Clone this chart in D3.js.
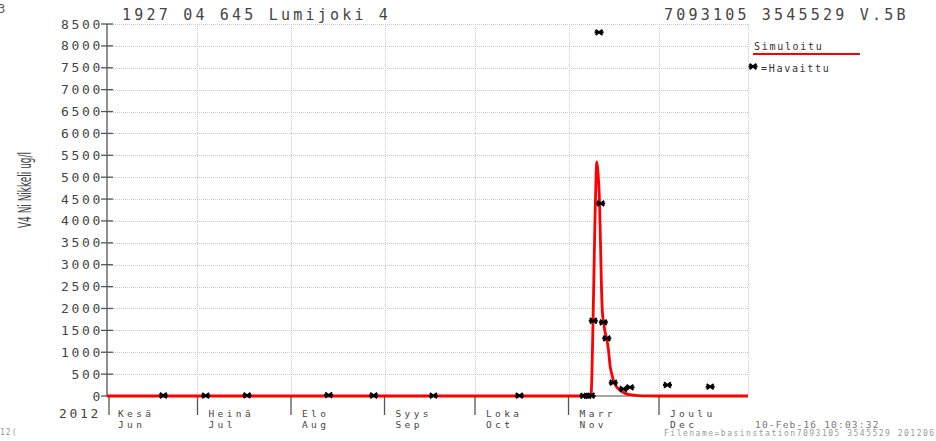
<!DOCTYPE html>
<html><head><meta charset="utf-8">
<script src="https://cdn.jsdelivr.net/npm/d3@7"></script>
<style>body{margin:0;background:#fff}svg{display:block}</style>
</head><body>
<svg id="c" width="936" height="441"></svg>
<script>
const titleLeft = "1927 04 645 Lumijoki 4";
const titleRight = "7093105 3545529 V.5B";
const yLabel = "V4 Ni Nikkeli ug/l";
const yearLabel = "2012";
const monthFi = ["Kesä","Heinä","Elo","Syys","Loka","Marr","Joulu"];
const monthEn = ["Jun","Jul","Aug","Sep","Oct","Nov","Dec"];
const monthStarts = ["2012-06-01 00","2012-07-01 00","2012-08-01 00","2012-09-01 00","2012-10-01 00","2012-11-01 00","2012-12-01 00"];
const yTicks = [0,500,1000,1500,2000,2500,3000,3500,4000,4500,5000,5500,6000,6500,7000,7500,8000,8500];
const xDomain = ["2012-06-01 00","2012-12-30 12"];

const simDates = ["2012-06-01 00","2012-11-08 11","2012-11-08 19","2012-11-09 03","2012-11-09 11","2012-11-09 19","2012-11-10 03","2012-11-10 09","2012-11-10 19","2012-11-11 07","2012-11-11 15","2012-11-11 23","2012-11-12 06","2012-11-12 14","2012-11-13 02","2012-11-13 16","2012-11-14 06","2012-11-14 18","2012-11-15 10","2012-11-15 22","2012-11-16 18","2012-11-18 02","2012-11-19 18","2012-11-21 09","2012-11-24 01","2012-11-27 10","2012-12-01 00","2012-12-30 12"];
const simValues = [0,0,600,1700,2900,4100,5000,5350,5100,4400,3400,2400,1900,1700,1480,1300,1050,700,480,340,230,130,60,30,8,1,0,0];

const obsDates = ["2012-06-19 16","2012-07-03 17","2012-07-17 10","2012-08-13 12","2012-08-28 10","2012-09-17 05","2012-10-15 17","2012-11-06 03","2012-11-07 07","2012-11-08 11","2012-11-09 05","2012-11-11 03","2012-11-11 16","2012-11-12 13","2012-11-13 16","2012-11-15 20","2012-11-19 04","2012-11-21 09","2012-12-03 19","2012-12-17 23"];
const obsValues = [12,10,15,20,12,8,10,5,5,8,1720,8310,4400,1684,1318,304,160,199,251,213];

const parse = d3.utcParse("%Y-%m-%d %H");
const svg = d3.select("#c");
const L = 107, R = 748, T = 24, B = 396;
const x = d3.scaleUtc().domain(xDomain.map(parse)).range([L, R]);
const y = d3.scaleLinear().domain([0, 8500]).range([B, T]);
const mono = "'DejaVu Sans Mono', monospace";

svg.append("rect").attr("width",936).attr("height",441).attr("fill","#fff");

// grid
const grid = svg.append("g").attr("stroke","#c8c8c8").attr("stroke-width",1).attr("stroke-dasharray","1,1");
yTicks.filter(v=>v>0).forEach(v=>{
  grid.append("line").attr("x1",L).attr("x2",R).attr("y1",Math.round(y(v))+0.5).attr("y2",Math.round(y(v))+0.5);
});
monthStarts.slice(1).map(parse).concat([parse(xDomain[1])]).forEach(d=>{
  const px = Math.round(x(d))+0.5;
  grid.append("line").attr("x1",px).attr("x2",px).attr("y1",T).attr("y2",B);
});

// axes
const ax = svg.append("g").attr("stroke","#555").attr("stroke-width",1.3);
ax.append("line").attr("x1",L).attr("x2",L).attr("y1",T).attr("y2",B);
ax.append("line").attr("x1",L).attr("x2",R).attr("y1",B).attr("y2",B).attr("stroke","#888");
yTicks.forEach(v=>{
  ax.append("line").attr("x1",L-6).attr("x2",L+6).attr("y1",y(v)).attr("y2",y(v));
});
monthStarts.map(parse).forEach(d=>{
  const px = x(d) + (x(d)===L?2:0);
  ax.append("line").attr("x1",px).attr("x2",px).attr("y1",B).attr("y2",B+19);
});

// y tick labels
svg.append("g").selectAll("text").data(yTicks).join("text")
  .attr("x",L-4).attr("y",v=>y(v)+4.5).attr("text-anchor","end")
  .attr("font-family",mono).attr("font-size",13).attr("letter-spacing",2.7).attr("fill","#444")
  .text(v=>v);

svg.append("text").attr("x",101).attr("y",418).attr("text-anchor","end")
  .attr("font-family",mono).attr("font-size",13).attr("letter-spacing",2.7).attr("fill","#444").text(yearLabel);

// month labels
const ml = svg.append("g").attr("font-family",mono).attr("font-size",9.5).attr("letter-spacing",3.4).attr("fill","#444");
monthStarts.map(parse).forEach((d,i)=>{
  ml.append("text").attr("x",x(d)+11).attr("y",416.5).text(monthFi[i]);
  ml.append("text").attr("x",x(d)+11).attr("y",427.5).text(monthEn[i]);
});

// y axis title
svg.append("text").attr("transform","translate(31,190) rotate(-90)")
  .attr("text-anchor","middle").attr("font-family","'DejaVu Sans', sans-serif").attr("font-size",17)
  .attr("textLength",76).attr("lengthAdjust","spacingAndGlyphs").attr("fill","#444").text(yLabel);

// titles
svg.append("text").attr("x",122).attr("y",20).attr("font-family",mono).attr("font-size",15)
  .attr("letter-spacing",3.2).attr("fill","#444").text(titleLeft);
svg.append("text").attr("x",664).attr("y",20).attr("font-family",mono).attr("font-size",15)
  .attr("letter-spacing",3.2).attr("fill","#444").text(titleRight);

// simulated line
const line = d3.line().x(d=>x(d[0])).y(d=>y(d[1])).curve(d3.curveMonotoneX);
svg.append("path").datum(simDates.map((d,i)=>[parse(d),simValues[i]]))
  .attr("d",line).attr("fill","none").attr("stroke","#ff0000").attr("stroke-width",2.8).attr("stroke-linejoin","round");

// observed markers
const star = "M-4.5,0H4.5M-3.5,-2.6L3.5,2.6M-3.5,2.6L3.5,-2.6";
svg.append("g").selectAll("path").data(obsDates.map((d,i)=>[parse(d),obsValues[i]])).join("path")
  .attr("transform",d=>`translate(${x(d[0])},${y(d[1])})`)
  .attr("d",star).attr("stroke","#000").attr("stroke-width",2).attr("fill","none");

// legend
svg.append("text").attr("x",754).attr("y",50).attr("font-family",mono).attr("font-size",10)
  .attr("letter-spacing",1.7).attr("fill","#333").text("Simuloitu");
svg.append("line").attr("x1",753).attr("x2",860).attr("y1",54).attr("y2",54).attr("stroke","#ff0000").attr("stroke-width",2);
svg.append("path").attr("transform","translate(753,66.5)").attr("d",star).attr("stroke","#000").attr("stroke-width",2).attr("fill","none");
svg.append("text").attr("x",761).attr("y",72).attr("font-family",mono).attr("font-size",10)
  .attr("letter-spacing",1.7).attr("fill","#333").text("=Havaittu");

// footer
svg.append("text").attr("x",755).attr("y",428).attr("font-family",mono).attr("font-size",9.5)
  .attr("letter-spacing",1.2).attr("fill","#777").text("10-Feb-16 10:03:32");
svg.append("text").attr("x",664).attr("y",436).attr("font-family",mono).attr("font-size",8)
  .attr("letter-spacing",1.5).attr("fill","#999").text("Filename=basinstation7093105 3545529 201206");
svg.append("text").attr("x",0).attr("y",435).attr("font-family",mono).attr("font-size",8)
  .attr("letter-spacing",1).attr("fill","#999").text("12(");
svg.append("text").attr("x",-2).attr("y",13).attr("font-family",mono).attr("font-size",12)
  .attr("fill","#555").text("3");
</script>
</body></html>
